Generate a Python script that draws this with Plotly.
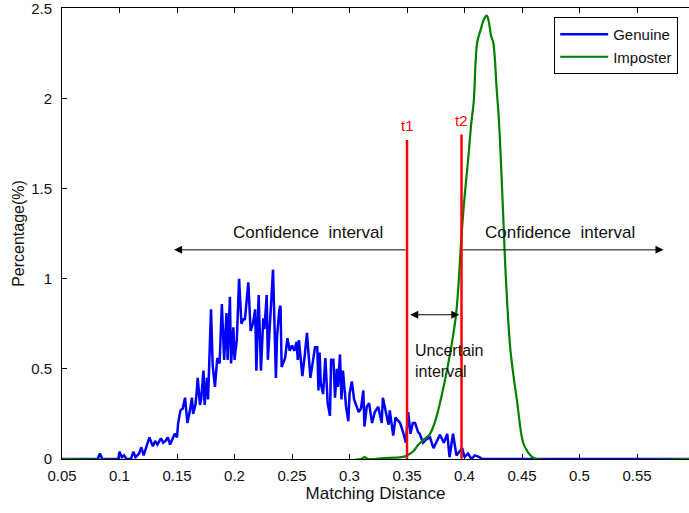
import plotly.graph_objects as go

# ---- data ----
genuine_x = [0.05, 0.081, 0.083, 0.085, 0.099, 0.100, 0.102, 0.104, 0.106, 0.110, 0.112, 0.114, 0.117,
             0.119, 0.121, 0.123, 0.126, 0.129, 0.131, 0.133, 0.136, 0.138, 0.140, 0.142, 0.144, 0.146,
             0.148, 0.150, 0.151, 0.153, 0.155, 0.157, 0.159, 0.161, 0.163, 0.164, 0.166, 0.167, 0.168,
             0.170, 0.171, 0.173, 0.174, 0.176, 0.177, 0.1796, 0.181, 0.183, 0.185, 0.187, 0.189, 0.191,
             0.193, 0.194, 0.196, 0.197, 0.199, 0.200, 0.202, 0.204, 0.206, 0.208, 0.209, 0.212, 0.214,
             0.216, 0.218, 0.219, 0.221, 0.223, 0.225, 0.226, 0.228, 0.229, 0.231, 0.2335, 0.236, 0.237,
             0.239, 0.240, 0.241, 0.244, 0.246, 0.248, 0.250, 0.252, 0.254, 0.255, 0.256, 0.259, 0.261,
             0.263, 0.266, 0.268, 0.270, 0.272, 0.273, 0.274, 0.275, 0.277, 0.279, 0.281, 0.283, 0.284,
             0.286, 0.2874, 0.289, 0.290, 0.2917, 0.293, 0.2943, 0.297, 0.299, 0.300, 0.302, 0.304,
             0.3057, 0.308, 0.310, 0.312, 0.313, 0.315, 0.317, 0.3196, 0.322, 0.325, 0.328, 0.329,
             0.3326, 0.334, 0.335, 0.338, 0.340, 0.344, 0.3465, 0.349, 0.351, 0.353, 0.355, 0.357,
             0.3596, 0.361, 0.364, 0.367, 0.370, 0.373, 0.3787, 0.382, 0.385, 0.387, 0.390, 0.393,
             0.398, 0.400, 0.403, 0.406, 0.409, 0.413, 0.415, 0.60]
genuine_y = [0, 0, 0.03, 0, 0, 0.04, 0.01, 0.02, 0, 0, 0.04, 0.01, 0.03,
             0.065, 0.02, 0.06, 0.12, 0.07, 0.10, 0.08, 0.115, 0.09, 0.10, 0.12, 0.08, 0.11,
             0.14, 0.12, 0.20, 0.27, 0.28, 0.34, 0.20, 0.26, 0.34, 0.25, 0.30, 0.36, 0.45,
             0.30, 0.33, 0.49, 0.30, 0.45, 0.33, 0.83, 0.52, 0.40, 0.56, 0.53, 0.86, 0.55,
             0.81, 0.55, 0.90, 0.53, 0.73, 0.55, 0.66, 1.00, 0.75, 0.78, 0.77, 0.98, 0.71,
             0.75, 0.83, 0.49, 0.91, 0.49, 0.78, 0.72, 0.91, 0.55, 0.78, 1.05, 0.45, 0.68,
             0.83, 0.85, 0.51, 0.56, 0.67, 0.60, 0.63, 0.60, 0.65, 0.55, 0.66, 0.46, 0.57,
             0.70, 0.45, 0.55, 0.62, 0.62, 0.38, 0.59, 0.42, 0.36, 0.56, 0.31, 0.24, 0.55,
             0.55, 0.34, 0.50, 0.40, 0.58, 0.33, 0.49, 0.29, 0.21, 0.36, 0.43, 0.33,
             0.30, 0.26, 0.28, 0.38, 0.18, 0.29, 0.31, 0.20, 0.26, 0.29, 0.20, 0.34,
             0.23, 0.19, 0.27, 0.13, 0.23, 0.20, 0.15, 0.09, 0.26, 0.14, 0.20, 0.20,
             0.15, 0.14, 0.09, 0.11, 0.12, 0.06, 0.135, 0.09, 0.14, 0.01, 0.14, 0.02,
             0.06, 0.01, 0.03, 0.0, 0.02, 0.01, 0, 0]

imposter_x = [0.05, 0.31, 0.313, 0.316, 0.33, 0.345, 0.35, 0.355, 0.36, 0.365, 0.370, 0.375, 0.379,
              0.385, 0.3926, 0.3974, 0.400, 0.403, 0.406, 0.408, 0.411, 0.414, 0.417, 0.4193, 0.421,
              0.423, 0.425, 0.428, 0.430, 0.433, 0.436, 0.440, 0.4457, 0.451, 0.455, 0.459, 0.463, 0.60]
imposter_y = [0, 0, 0.01, 0, 0.005, 0.01, 0.02, 0.04, 0.08, 0.11, 0.14, 0.22, 0.32,
              0.50, 0.80, 1.24, 1.45, 1.65, 1.87, 1.98, 2.31, 2.38, 2.44, 2.46, 2.43,
              2.35, 2.31, 2.05, 1.87, 1.45, 1.00, 0.60, 0.32, 0.09, 0.04, 0.01, 0, 0]

thresholds = [0.35, 0.3974]
threshold_labels = ["t1", "t2"]
threshold_tops = [1.77, 1.80]

x_ticks = [0.05, 0.1, 0.15, 0.2, 0.25, 0.3, 0.35, 0.4, 0.45, 0.5, 0.55]
y_ticks = [0, 0.5, 1, 1.5, 2, 2.5]

FONT = "Liberation Sans, Arial, sans-serif"

fig = go.Figure()
fig.add_trace(go.Scatter(x=genuine_x, y=genuine_y, mode="lines", name="Genuine",
                         line=dict(color="#0000ff", width=2.5), cliponaxis=False))
fig.add_trace(go.Scatter(x=imposter_x, y=imposter_y, mode="lines", name="Imposter",
                         line=dict(color="#008000", width=2.2), line_shape="spline", cliponaxis=False))
for t, top in zip(thresholds, threshold_tops):
    fig.add_trace(go.Scatter(x=[t, t], y=[0, top], mode="lines", showlegend=False,
                             line=dict(color="#ff0000", width=2.5), cliponaxis=False))

# threshold labels
for t, lab, top in zip(thresholds, threshold_labels, threshold_tops):
    fig.add_annotation(x=t, y=top + 0.02, text=lab, showarrow=False, yanchor="bottom",
                       font=dict(color="#ff0000", size=15, family=FONT))

arrow_y = 1.16
# left confidence arrow
fig.add_annotation(x=0.1475, y=arrow_y, ax=thresholds[0], ay=arrow_y, xref="x", yref="y",
                   axref="x", ayref="y", text="", showarrow=True, arrowhead=2, arrowsize=1.6,
                   arrowwidth=1, arrowcolor="black")
# right confidence arrow
fig.add_annotation(x=0.573, y=arrow_y, ax=thresholds[1], ay=arrow_y, xref="x", yref="y",
                   axref="x", ayref="y", text="", showarrow=True, arrowhead=2, arrowsize=1.6,
                   arrowwidth=1, arrowcolor="black")
# uncertain double arrow
fig.add_annotation(x=0.3955, y=0.80, ax=0.3515, ay=0.80, xref="x", yref="y",
                   axref="x", ayref="y", text="", showarrow=True, arrowhead=2, startarrowhead=2,
                   arrowside="end+start", arrowsize=1.6, startarrowsize=1.6,
                   arrowwidth=1, arrowcolor="black")

fig.add_annotation(x=0.264, y=1.255, text="Confidence\u00a0 interval", showarrow=False,
                   font=dict(size=17, color="#111", family=FONT))
fig.add_annotation(x=0.483, y=1.255, text="Confidence\u00a0 interval", showarrow=False,
                   font=dict(size=17, color="#111", family=FONT))
fig.add_annotation(x=0.3555, y=0.545, text="Uncertain<br>interval", showarrow=False,
                   xanchor="left", align="left",
                   font=dict(size=16, color="#111", family=FONT))

fig.update_layout(
    width=689, height=513,
    margin=dict(l=62, r=0, t=5, b=54),
    paper_bgcolor="white", plot_bgcolor="white",
    font=dict(family=FONT, size=15, color="#111"),
    showlegend=True,
    legend=dict(x=0.785, y=0.98, xanchor="left", yanchor="top",
                bordercolor="black", borderwidth=1, bgcolor="white", itemwidth=48,
                font=dict(size=15, family=FONT)),
    xaxis=dict(range=[0.05, 0.5952], tickvals=x_ticks, ticktext=[f"{v:g}" for v in x_ticks],
               showgrid=False, zeroline=False, showline=True, linecolor="black", linewidth=1,
               mirror="ticks", ticks="inside", ticklen=5, tickcolor="black", layer="below traces",
               title=dict(text="Matching Distance", font=dict(size=17), standoff=2),
               tickfont=dict(size=15), ticklabeloverflow="allow", ticklabelstandoff=3),
    yaxis=dict(range=[0, 2.5015], tickvals=y_ticks, ticktext=[f"{v:g}" for v in y_ticks],
               showgrid=False, zeroline=False, showline=True, linecolor="black", linewidth=1,
               ticks="inside", ticklen=5, tickcolor="black", layer="below traces",
               title=dict(text="Percentage(%)", font=dict(size=16), standoff=2),
               tickfont=dict(size=15), ticklabeloverflow="allow", ticklabelstandoff=6),
)

fig.write_html("out.html")
